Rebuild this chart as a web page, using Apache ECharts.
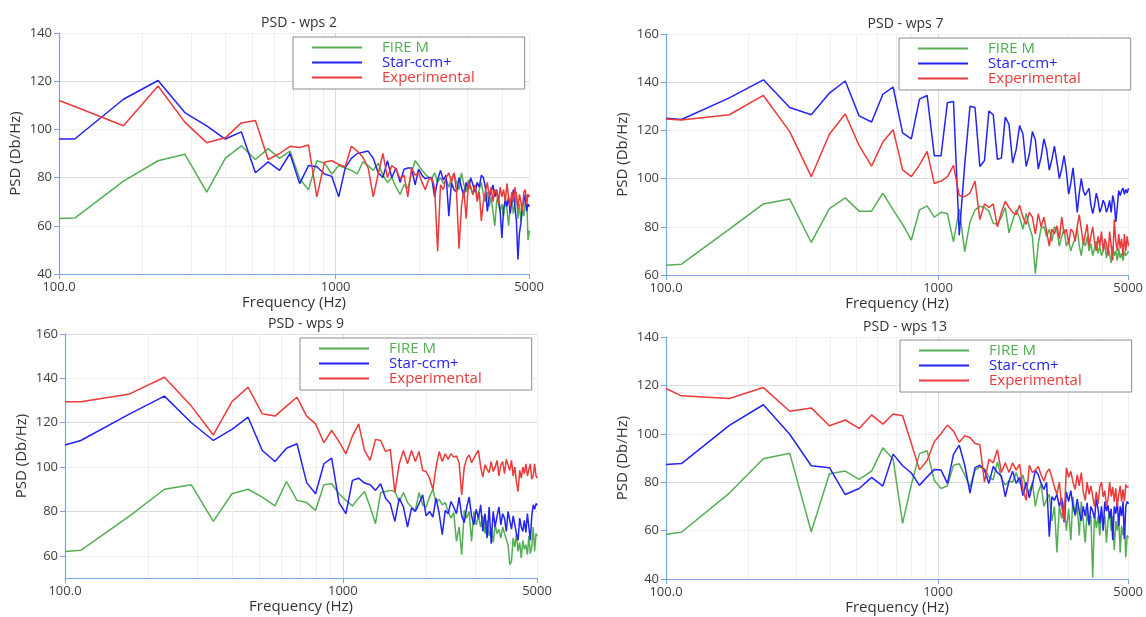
<!DOCTYPE html>
<html>
<head>
<meta charset="utf-8">
<title>PSD - wps</title>
<script src="https://cdn.jsdelivr.net/npm/echarts@6/dist/echarts.min.js"></script>
<style>
  html, body { margin: 0; padding: 0; background: #fff; }
  #chart { width: 1146px; height: 617px; }
</style>
</head>
<body>
<div id="chart"></div>
<script>
// Frequency bins (Hz): first sample at 100 Hz, then a 57 Hz grid
const freq = [100, 114, 171, 228, 285, 342, 399, 456, 513, 570,
  627, 684, 741, 798, 855, 912, 969, 1026, 1083, 1140,
  1197, 1254, 1311, 1368, 1425, 1482, 1539, 1596, 1653, 1710,
  1767, 1824, 1881, 1938, 1995, 2052, 2109, 2166, 2223, 2280,
  2337, 2394, 2451, 2508, 2565, 2622, 2679, 2736, 2793, 2850,
  2907, 2964, 3021, 3078, 3135, 3192, 3249, 3306, 3363, 3420,
  3477, 3534, 3591, 3648, 3705, 3762, 3819, 3876, 3933, 3990,
  4047, 4104, 4161, 4218, 4275, 4332, 4389, 4446, 4503, 4560,
  4617, 4674, 4731, 4788, 4845, 4902, 4959, 5016];

const seriesNames = ['FIRE M', 'Star-ccm+', 'Experimental'];
const xTickLabels = [100, 1000, 5000];
const xGridLines = [200, 300, 400, 500, 600, 700, 800, 900, 1000, 2000, 3000, 4000, 5000];

// ---- wps 2 ----
const fireWps2 = [63, 63.2, 78.5, 87, 89.7, 74, 88, 93.2, 87.5, 92,
  88, 91, 79.5, 75, 87, 86, 81.5, 85, 84, 83,
  81.5, 86.5, 85, 83, 86, 81, 78, 80, 76, 73,
  77, 75.5, 82, 87, 85, 83, 81.5, 80, 79.5, 82,
  78, 80, 77.5, 79, 76, 80, 81.5, 78, 75, 82,
  77, 74, 79, 76, 73, 77, 72, 75, 78, 73,
  70, 74, 68, 72, 66, 60, 70, 73, 66, 69,
  64, 71, 67, 60, 68, 72, 65, 69, 74, 63,
  69, 62, 67, 64, 70, 73, 54, 58];
const starWps2 = [96, 96, 112.5, 120.3, 107, 101.5, 96, 99, 82, 86.5,
  83, 90, 77.5, 85, 84.5, 81.5, 80.5, 72, 84, 88,
  90, 90.5, 91, 88, 82, 80, 87, 80, 84, 78,
  83.5, 84, 84, 77, 83.5, 81, 79.5, 80, 80, 72,
  79, 83, 79, 81, 64, 78, 75, 74, 80, 76,
  72, 78, 75, 80, 77, 74, 78, 76, 81, 80,
  76, 66, 72, 74, 77, 72, 75, 70, 66, 55,
  67, 71, 68, 72, 65, 70, 75, 68, 62, 46,
  57, 61, 68, 70, 73, 66, 69, 68];
const expWps2 = [112, 109.5, 101.5, 118, 103, 94.5, 96.5, 102.7, 103.7, 87.5,
  90, 93, 92.5, 93.5, 72, 86.5, 87, 85.5, 84.5, 93,
  91, 88.5, 84, 72, 81.5, 90, 80, 85, 83.5, 79.5,
  81, 72, 84, 81, 82, 78, 75, 79, 80, 76,
  49.5, 77, 75, 80, 82, 78, 82, 74, 50.5, 68,
  75, 63, 78, 76, 73, 77, 70, 74, 62, 70,
  74, 78, 72, 76, 70, 75, 74, 69, 76, 72,
  75, 70, 77.5, 72, 68, 74, 70, 76, 72, 67,
  73, 70, 66, 74, 75, 69, 73, 72];

// ---- wps 7 ----
const fireWps7 = [64, 64.5, 79, 89.5, 91.5, 73.5, 87.5, 92, 86.5, 86.5,
  94, 87, 81, 74.5, 87, 88.7, 84, 86, 85.5, 73.8,
  87.3, 69.7, 82, 87, 88.5, 88, 86.5, 81.5, 81, 84,
  88, 77.5, 82.5, 87, 84, 79, 85.5, 80, 76, 60.5,
  73, 79.5, 80, 76, 79, 74, 80, 78.5, 72, 76,
  79, 72, 74, 70, 73, 75, 79.5, 72, 68, 74,
  72, 76, 70, 73, 68, 71, 74, 69, 72, 68,
  70, 73, 67, 71, 69, 65, 72, 68, 70, 66,
  71, 67, 69, 66, 70, 68, 69, 70];
const starWps7 = [125, 124.5, 133.5, 141, 129.5, 126.5, 135.5, 140.5, 126, 123.5,
  135, 138, 119, 116.5, 133, 134.5, 109.5, 109.5, 131.5, 132,
  76.5, 106, 130, 129.5, 105, 107.5, 128, 126.5, 108, 108.5,
  125.5, 122.5, 106.5, 112, 122, 118.5, 105, 110, 119.5, 116,
  104, 109, 116.5, 112, 103.5, 108, 113.5, 107, 100, 104,
  109.5, 103, 93.5, 98, 104.5, 96, 86, 94, 100, 95,
  93, 92.5, 96, 89, 85.5, 89, 94, 91, 86, 88,
  91, 89.5, 86, 88, 91, 86, 93, 90, 82, 88,
  95, 93, 95, 96, 93.5, 95.5, 94, 96];
const expWps7 = [124.7, 124.3, 126.5, 134.5, 119.5, 100.8, 118.5, 126.8, 113.7, 105.2,
  115.2, 120.3, 103.6, 100.8, 105.7, 111.3, 98, 99, 100.7, 105.5,
  93, 92.5, 94, 99, 83, 89.5, 88, 89.5, 80, 86,
  90.5, 88, 86, 85, 89, 84, 81, 86, 84, 77,
  85.5, 80, 84, 78, 72, 79, 77, 80.5, 75, 84,
  77, 79, 73, 79, 78, 74, 80, 85, 79, 73,
  77, 81, 72, 76, 80, 74, 70, 76, 72, 78,
  70, 75, 73, 68, 78, 72, 66, 83, 74, 70,
  77, 71, 75, 68, 77, 70, 76, 72];

// ---- wps 9 ----
const fireWps9 = [62, 62.5, 78, 90, 92, 75.5, 88, 90, 86.5, 82.5,
  93.5, 85, 84, 80.5, 92, 92.5, 88, 85, 82.5, 86,
  89, 82, 74.5, 88.5, 89, 89.5, 89, 84.5, 88.5, 84,
  82, 80.5, 88.5, 83, 82, 86.5, 90, 84, 85.5, 83,
  84, 80, 77, 79.5, 66.5, 73, 60.5, 80.5, 77, 80,
  66.5, 80, 74, 78, 73, 78, 70, 76, 69, 72.5,
  66, 74, 70, 72, 68, 73, 70, 70, 65, 56,
  57.5, 68, 64, 70, 62, 66, 59, 67, 63, 65,
  60.5, 69, 61, 64, 73, 62, 70, 69];
const starWps9 = [110, 112, 124, 132, 120, 112, 117, 122.5, 107.5, 102.5,
  108.5, 110.5, 93, 88, 101.5, 104, 84, 79, 94, 95,
  92.8, 92, 89.5, 92.5, 86, 83.5, 75.5, 86, 82, 73,
  81.5, 80, 83.5, 87.5, 78, 80, 77.5, 86, 79, 69.5,
  80.5, 79, 84.5, 82, 79, 86.5, 78, 75, 82, 86.5,
  78, 74, 81, 77, 83, 71, 79, 68, 82, 65.5,
  80, 73, 78, 82, 74, 79, 77, 71, 80, 76,
  72, 78, 74, 70, 67, 77, 73, 71, 76, 70.5,
  79, 73, 67, 78, 83, 81, 83.5, 83];
const expWps9 = [129.5, 129.5, 133, 140.5, 127.5, 114.5, 129.5, 136, 124, 123,
  127.5, 131.5, 123, 119.5, 111, 116.5, 111.5, 106, 114, 119.5,
  107.5, 103, 112.5, 112, 107, 108, 88.5, 101.5, 107.5, 101.5,
  107.5, 102.5, 107, 98.5, 98, 95, 90, 100, 107, 102.5,
  106, 103.5, 106, 104.5, 105, 102, 87.5, 100, 104, 105.5,
  102, 104, 106, 107.5, 100, 95.5, 101, 99, 97.5, 102.5,
  98, 100, 103, 96, 101, 102.5, 97, 103.5, 101, 98.5,
  103, 96, 100, 93, 89, 98.5, 95, 100, 97, 101.5,
  96, 99, 101.5, 94.5, 96, 101.5, 96, 95];

// ---- wps 13 ----
const fireWps13 = [58.5, 59.3, 75.5, 89.7, 92, 59.5, 83.5, 84.6, 81.2, 84.6,
  94.2, 89.5, 63, 79, 91.8, 93, 80.8, 77.4, 78.5, 87,
  87.6, 83, 78, 85, 86.3, 85.5, 82.2, 81, 88.4, 81.5,
  78.8, 80.5, 80, 84, 79.5, 83, 77, 76, 80, 70,
  76, 79, 70, 73, 75, 64, 70, 51, 70, 65,
  72, 60, 69, 56, 74, 66, 70, 58, 72, 64,
  55, 68, 62, 66, 40.5, 67, 61, 66, 58, 68,
  62, 66, 55, 64, 68, 60, 66, 52, 64, 60,
  66, 51, 62, 58, 64, 49, 58, 57];
const starWps13 = [87.3, 87.7, 103.5, 112, 99.8, 86.8, 86, 74.9, 77.4, 82,
  78.4, 91.6, 86.8, 83.8, 78.7, 82.2, 85.2, 85, 79.5, 91.5,
  95.3, 87, 75.5, 86, 87, 85, 79.5, 86.5, 84, 82.5,
  74, 80.5, 84.5, 79.5, 82, 74.5, 80, 73.5, 79, 85,
  83, 79.5, 77, 80, 57.5, 74, 72.5, 75, 70, 73.5,
  63.5, 76, 72, 76.5, 70, 66.5, 73, 68, 64, 70,
  66, 71.5, 62.5, 70, 68, 65, 73, 69, 63, 70,
  60, 72, 68, 70.5, 65, 69, 56, 70, 67, 72,
  62, 70, 66, 72, 56.5, 70, 72, 71];
const expWps13 = [118.7, 115.7, 114.6, 119.1, 109.3, 110.7, 103.3, 105.7, 102.2, 107.8,
  104, 108.2, 107.5, 96, 85.1, 89, 96.7, 100.1, 103.6, 101.1,
  96.5, 99.2, 98.5, 96, 95.5, 80, 89.5, 88, 93.5, 84,
  88, 84, 88, 85, 87.5, 77, 72.5, 87, 84, 85,
  86.5, 83, 80.5, 84, 85.5, 82, 78, 75, 80, 70,
  64, 86, 82, 84.5, 80, 77, 83, 78.5, 84, 76,
  72.5, 80, 75, 78.5, 74, 70, 76, 71, 78, 80,
  74, 76.5, 70, 73, 80, 74, 78, 72, 77.5, 70,
  75, 78.5, 72, 77, 72, 79, 78, 78];

const colors = { 'FIRE M': '#55ae55', 'Star-ccm+': '#2323f2', 'Experimental': '#ec3a3a' };

const panels = [
  { title: 'PSD - wps 2',  series: [fireWps2, starWps2, expWps2],
    grid: { left: 59, top: 33, width: 470, height: 241 }, yMin: 40, yMax: 140,
    yLabels: [40, 60, 80, 100, 120, 140], legend: { left: 293, top: 37 } },
  { title: 'PSD - wps 7',  series: [fireWps7, starWps7, expWps7],
    grid: { left: 666, top: 34, width: 469, height: 241 }, yMin: 60, yMax: 160,
    yLabels: [60, 80, 100, 120, 140, 160], legend: { left: 899, top: 38 } },
  { title: 'PSD - wps 9',  series: [fireWps9, starWps9, expWps9],
    grid: { left: 65, top: 334, width: 472, height: 244 }, yMin: 50, yMax: 160,
    yLabels: [60, 80, 100, 120, 140, 160], legend: { left: 300, top: 338 } },
  { title: 'PSD - wps 13', series: [fireWps13, starWps13, expWps13],
    grid: { left: 666, top: 337, width: 468, height: 242 }, yMin: 40, yMax: 140,
    yLabels: [40, 60, 80, 100, 120, 140], legend: { left: 900, top: 340 } }
];

const axisBlue = '#7ba3e6';
const textColor = '#404040';
const fontFamily = '"Open Sans", "Noto Sans", sans-serif';
const majorGrid = '#dcdcdc';
const minorGrid = '#efefef';

const option = {
  backgroundColor: '#ffffff',
  animation: false,
  textStyle: { fontFamily: fontFamily },
  title: [], grid: [], xAxis: [], yAxis: [], legend: [], series: []
};

panels.forEach((p, i) => {
  option.grid.push(Object.assign({ containLabel: false }, p.grid));
  option.title.push({
    text: p.title,
    left: p.grid.left + p.grid.width / 2,
    top: p.grid.top - 22,
    textAlign: 'center',
    textStyle: { fontSize: 14, fontWeight: 'normal', color: '#333', fontFamily: fontFamily }
  });
  option.xAxis.push({
    gridIndex: i, type: 'log', logBase: 10, min: 100, max: 5000,
    name: 'Frequency (Hz)', nameLocation: 'middle', nameGap: 20,
    nameTextStyle: { fontSize: 15, color: '#333', fontFamily: fontFamily },
    axisLine: { show: true, lineStyle: { color: axisBlue, width: 1.2 } },
    axisTick: { show: true, length: 5, customValues: xTickLabels, lineStyle: { color: axisBlue } },
    axisLabel: {
      customValues: xTickLabels, margin: 7, fontSize: 13, color: textColor, fontFamily: fontFamily,
      formatter: v => (Math.round(v) === 100 ? '100.0' : String(Math.round(v)))
    },
    splitLine: { show: false }
  });
  const minorFirst = (p.yMin / 10) % 2 === 1;
  option.yAxis.push({
    gridIndex: i, type: 'value', min: p.yMin, max: p.yMax, interval: 10,
    name: 'PSD (Db/Hz)', nameLocation: 'middle', nameGap: 36,
    nameTextStyle: { fontSize: 15, color: '#333', fontFamily: fontFamily },
    axisLine: { show: true, lineStyle: { color: axisBlue, width: 1.2 } },
    axisTick: { show: true, length: 5, customValues: p.yLabels, lineStyle: { color: axisBlue } },
    axisLabel: { customValues: p.yLabels, margin: 7, fontSize: 13, color: textColor, fontFamily: fontFamily },
    splitLine: { show: true, lineStyle: { width: 1, color: minorFirst ? [minorGrid, majorGrid] : [majorGrid, minorGrid] } }
  });
  option.legend.push({
    left: p.legend.left, top: p.legend.top, orient: 'vertical',
    backgroundColor: '#ffffff', borderColor: '#8c8c8c', borderWidth: 1,
    padding: [3, 50, 4, 19], itemGap: 0, itemWidth: 50, itemHeight: 2,
    icon: 'rect', selectedMode: false,
    textStyle: { fontSize: 15, lineHeight: 15, padding: [0, 0, 0, 15], fontFamily: fontFamily },
    data: seriesNames.map(n => ({ name: n, textStyle: { color: colors[n] } }))
  });
  // light vertical grid lines at the log-decade subdivisions
  option.series.push({
    name: 'grid-' + i, type: 'line', xAxisIndex: i, yAxisIndex: i, z: 1,
    silent: true, showSymbol: false, lineStyle: { opacity: 0 },
    data: [[100, p.yMin], [5000, p.yMin]],
    markLine: {
      silent: true, symbol: ['none', 'none'], z: 1, animation: false,
      label: { show: false },
      lineStyle: { color: minorGrid, width: 1, type: 'solid' },
      data: xGridLines.map(v => ({
        xAxis: v,
        lineStyle: { color: v === 1000 ? majorGrid : minorGrid, width: 1, type: 'solid' }
      }))
    }
  });
  p.series.forEach((vals, s) => {
    const name = seriesNames[s];
    option.series.push({
      name: name, type: 'line', xAxisIndex: i, yAxisIndex: i, z: 3,
      showSymbol: false, clip: true, silent: true,
      lineStyle: { color: colors[name], width: 1.5 },
      itemStyle: { color: colors[name] },
      data: freq.map((f, j) => [f, vals[j]])
    });
  });
});

const chart = echarts.init(document.getElementById('chart'), null, { renderer: 'canvas' });
chart.setOption(option);
</script>
</body>
</html>
